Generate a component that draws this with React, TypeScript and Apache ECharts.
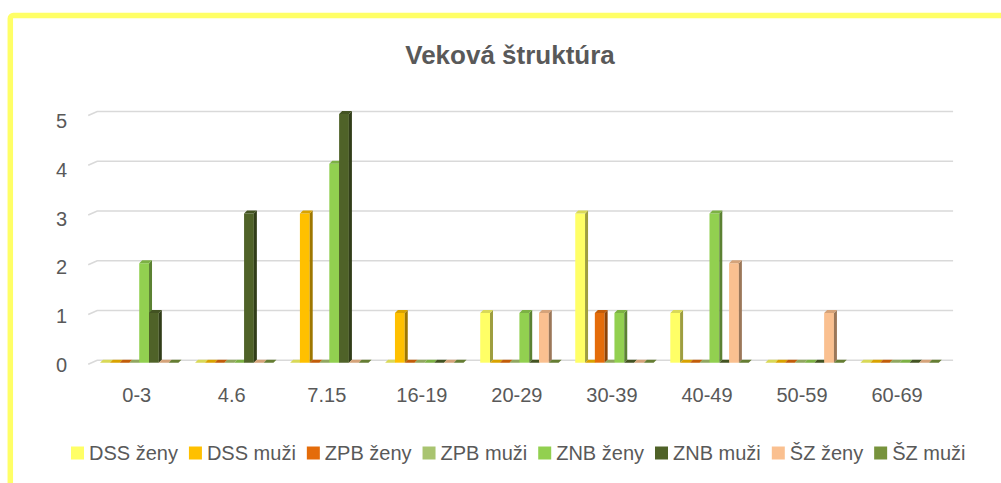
import React, { useEffect, useRef } from "react";
import * as echarts from "echarts";

const CATEGORIES = ["0-3", "4.6", "7.15", "16-19", "20-29", "30-39", "40-49", "50-59", "60-69"];
const SERIES_NAMES = ["DSS ženy", "DSS muži", "ZPB ženy", "ZPB muži", "ZNB ženy", "ZNB muži", "ŠZ ženy", "ŠZ muži"];
const DSS_ZENY = [0, 0, 0, 0, 1, 3, 1, 0, 0];
const DSS_MUZI = [0, 0, 3, 1, 0, 0, 0, 0, 0];
const ZPB_ZENY = [0, 0, 0, 0, 0, 1, 0, 0, 0];
const ZPB_MUZI = [0, 0, 0, 0, 0, 0, 0, 0, 0];
const ZNB_ZENY = [2, 0, 4, 0, 1, 1, 3, 0, 0];
const ZNB_MUZI = [1, 3, 5, 0, 0, 0, 0, 0, 0];
const SZ_ZENY = [0, 0, 0, 0, 1, 0, 2, 1, 0];
const SZ_MUZI = [0, 0, 0, 0, 0, 0, 0, 0, 0];
const SERIES_VALUES = [DSS_ZENY, DSS_MUZI, ZPB_ZENY, ZPB_MUZI, ZNB_ZENY, ZNB_MUZI, SZ_ZENY, SZ_MUZI];
const COLORS = ["#FFFF66", "#FFC000", "#E46C0A", "#A9C470", "#92D050", "#4F6228", "#FAC090", "#77933C"];
const Y_TICKS = [0, 1, 2, 3, 4, 5];

const FONT = "'Liberation Sans', Arial, sans-serif";
const TEXT_COLOR = "#595959";

function shade(hex: string, f: number): string {
  const n = parseInt(hex.slice(1), 16);
  const r = Math.round(((n >> 16) & 255) * f);
  const g = Math.round(((n >> 8) & 255) * f);
  const b = Math.round((n & 255) * f);
  return `rgb(${r},${g},${b})`;
}

const BAR_W = 9.8;
const DEPTH = 3;
const GROUP_SHIFT = 2.5;

export default function App() {
  const ref = useRef<HTMLDivElement>(null);

  useEffect(() => {
    if (!ref.current) return;
    const chart = echarts.init(ref.current, undefined, { renderer: "svg" });

    const barSeries = SERIES_NAMES.map((name, s) => ({
      name,
      type: "custom",
      xAxisIndex: 0,
      yAxisIndex: 0,
      z: 2 + s,
      itemStyle: { color: COLORS[s] },
      data: SERIES_VALUES[s].map((v, i) => [i, v]),
      renderItem: (params: any, api: any) => {
        const idx = api.value(0);
        const val = api.value(1);
        const top = api.coord([idx, val]);
        const base = api.coord([idx, 0]);
        const x = top[0] + GROUP_SHIFT + (s - 4) * BAR_W;
        const yt = top[1];
        const yb = base[1];
        const c = COLORS[s];
        return {
          type: "group",
          children: [
            {
              type: "rect",
              shape: { x, y: yt, width: BAR_W, height: yb - yt },
              style: { fill: c },
            },
            {
              type: "polygon",
              shape: {
                points: [
                  [x + BAR_W, yt],
                  [x + BAR_W + DEPTH, yt - DEPTH],
                  [x + BAR_W + DEPTH, yb - DEPTH],
                  [x + BAR_W, yb],
                ],
              },
              style: { fill: shade(c, 0.62) },
            },
            {
              type: "polygon",
              shape: {
                points: [
                  [x, yt],
                  [x + DEPTH, yt - DEPTH],
                  [x + BAR_W + DEPTH, yt - DEPTH],
                  [x + BAR_W, yt],
                ],
              },
              style: { fill: shade(c, 0.85) },
            },
          ],
        };
      },
    }));

    const gridSeries = {
      name: "gridlines",
      type: "custom",
      xAxisIndex: 0,
      yAxisIndex: 0,
      z: 1,
      silent: true,
      data: Y_TICKS.map((v) => [0, v]),
      renderItem: (params: any, api: any) => {
        const cs = params.coordSys;
        const y = api.coord([0, api.value(1)])[1];
        return {
          type: "polyline",
          shape: {
            points: [
              [cs.x - 1, y + 1.5],
              [cs.x + 8, y - 2.5],
              [cs.x + cs.width + 8.5, y - 2.5],
            ],
          },
          style: { stroke: "#D9D9D9", lineWidth: 1.6, fill: "none" },
        };
      },
    };

    const option: any = {
      animation: false,
      backgroundColor: "#ffffff",
      graphic: [
        {
          type: "rect",
          shape: { x: 10.3, y: 15.5, width: 1100, height: 600, r: 3 },
          style: { fill: "none", stroke: "#FFFF66", lineWidth: 5.5 },
          z: 0,
        },
        {
          type: "text",
          x: 510,
          y: 55,
          style: {
            text: "Veková štruktúra",
            fill: TEXT_COLOR,
            font: `bold 26px ${FONT}`,
            textAlign: "center",
            textVerticalAlign: "middle",
          },
        },
      ],
      legend: {
        data: SERIES_NAMES,
        left: 71,
        top: 443,
        padding: 0,
        itemWidth: 13,
        itemHeight: 13,
        itemGap: 11,
        icon: "rect",
        textStyle: { fontSize: 20, color: TEXT_COLOR, fontFamily: FONT },
      },
      grid: [
        { left: 89.2, right: 56.4, top: 114, height: 248.7 },
        { left: 89.2, right: 56.4, top: 121, height: 244 },
      ],
      xAxis: [
        {
          type: "category",
          gridIndex: 0,
          data: CATEGORIES,
          axisLine: { show: false },
          axisTick: { show: false },
          axisLabel: { margin: 22, fontSize: 20, color: TEXT_COLOR, fontFamily: FONT },
        },
        { type: "category", gridIndex: 1, data: CATEGORIES, show: false },
      ],
      yAxis: [
        { type: "value", gridIndex: 0, min: 0, max: 5, interval: 1, show: false },
        {
          type: "value",
          gridIndex: 1,
          min: 0,
          max: 5,
          interval: 1,
          axisLine: { show: false },
          axisTick: { show: false },
          splitLine: { show: false },
          axisLabel: { margin: 22, fontSize: 20, color: TEXT_COLOR, fontFamily: FONT },
        },
      ],
      series: [gridSeries, ...barSeries],
    };

    chart.setOption(option);
    return () => chart.dispose();
  }, []);

  return (
    <div
      ref={ref}
      style={{ position: "fixed", left: 0, top: 0, width: 1001, height: 483, background: "#fff" }}
    />
  );
}
